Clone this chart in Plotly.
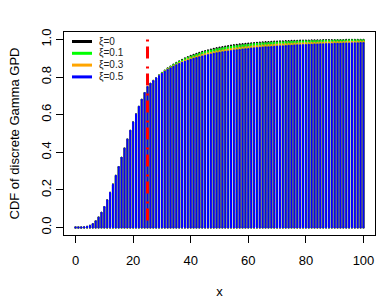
import plotly.graph_objects as go

# x values 0..100
x_vals = list(range(0, 101))
threshold = 25

# Common gamma body, x = 0..25
body = [0.0000, 0.0000, 0.0002, 0.0011, 0.0037, 0.0091, 0.0186, 0.0329, 0.0527, 0.0780,
        0.1088, 0.1446, 0.1847, 0.2283, 0.2746, 0.3224, 0.3712, 0.4199, 0.4679, 0.5146,
        0.5595, 0.6022, 0.6425, 0.6801, 0.7149, 0.7470]

# Tails, x = 26..100
tail_xi0 = [0.7644, 0.7807, 0.7958, 0.8099, 0.8230, 0.8352, 0.8465, 0.8571, 0.8670, 0.8761,
            0.8847, 0.8926, 0.9000, 0.9069, 0.9133, 0.9193, 0.9249, 0.9301, 0.9349, 0.9394,
            0.9435, 0.9474, 0.9511, 0.9544, 0.9576, 0.9605, 0.9632, 0.9658, 0.9681, 0.9703,
            0.9724, 0.9743, 0.9760, 0.9777, 0.9792, 0.9807, 0.9820, 0.9832, 0.9844, 0.9855,
            0.9865, 0.9874, 0.9883, 0.9891, 0.9898, 0.9905, 0.9912, 0.9918, 0.9924, 0.9929,
            0.9934, 0.9938, 0.9943, 0.9947, 0.9950, 0.9954, 0.9957, 0.9960, 0.9963, 0.9965,
            0.9968, 0.9970, 0.9972, 0.9974, 0.9976, 0.9977, 0.9979, 0.9980, 0.9982, 0.9983,
            0.9984, 0.9985, 0.9986, 0.9987, 0.9988]

tail_xi01 = [0.7644, 0.7805, 0.7953, 0.8091, 0.8219, 0.8337, 0.8447, 0.8549, 0.8643, 0.8731,
             0.8813, 0.8888, 0.8959, 0.9025, 0.9086, 0.9143, 0.9196, 0.9245, 0.9291, 0.9334,
             0.9375, 0.9412, 0.9447, 0.9480, 0.9511, 0.9539, 0.9566, 0.9591, 0.9615, 0.9637,
             0.9658, 0.9677, 0.9695, 0.9712, 0.9728, 0.9743, 0.9758, 0.9771, 0.9783, 0.9795,
             0.9806, 0.9816, 0.9826, 0.9835, 0.9844, 0.9852, 0.9860, 0.9867, 0.9874, 0.9881,
             0.9887, 0.9893, 0.9898, 0.9903, 0.9908, 0.9913, 0.9917, 0.9921, 0.9925, 0.9929,
             0.9932, 0.9935, 0.9938, 0.9941, 0.9944, 0.9947, 0.9949, 0.9952, 0.9954, 0.9956,
             0.9958, 0.9960, 0.9962, 0.9964, 0.9965]

tail_xi03 = [0.7643, 0.7800, 0.7944, 0.8077, 0.8198, 0.8310, 0.8412, 0.8507, 0.8595, 0.8676,
             0.8751, 0.8820, 0.8885, 0.8945, 0.9001, 0.9053, 0.9102, 0.9147, 0.9190, 0.9229,
             0.9267, 0.9302, 0.9335, 0.9366, 0.9395, 0.9422, 0.9448, 0.9472, 0.9495, 0.9516,
             0.9537, 0.9556, 0.9575, 0.9592, 0.9608, 0.9624, 0.9639, 0.9653, 0.9666, 0.9679,
             0.9691, 0.9702, 0.9713, 0.9724, 0.9733, 0.9743, 0.9752, 0.9761, 0.9769, 0.9777,
             0.9784, 0.9791, 0.9798, 0.9805, 0.9811, 0.9817, 0.9823, 0.9829, 0.9834, 0.9839,
             0.9844, 0.9849, 0.9853, 0.9858, 0.9862, 0.9866, 0.9870, 0.9874, 0.9877, 0.9881,
             0.9884, 0.9887, 0.9890, 0.9893, 0.9896]

tail_xi05 = [0.7641, 0.7796, 0.7936, 0.8063, 0.8179, 0.8284, 0.8381, 0.8470, 0.8551, 0.8626,
             0.8696, 0.8760, 0.8820, 0.8876, 0.8927, 0.8975, 0.9020, 0.9063, 0.9102, 0.9139,
             0.9174, 0.9207, 0.9237, 0.9266, 0.9294, 0.9320, 0.9344, 0.9368, 0.9389, 0.9410,
             0.9430, 0.9449, 0.9467, 0.9484, 0.9500, 0.9516, 0.9531, 0.9545, 0.9558, 0.9571,
             0.9583, 0.9595, 0.9607, 0.9617, 0.9628, 0.9638, 0.9647, 0.9657, 0.9665, 0.9674,
             0.9682, 0.9690, 0.9698, 0.9705, 0.9712, 0.9719, 0.9725, 0.9732, 0.9738, 0.9744,
             0.9750, 0.9755, 0.9760, 0.9766, 0.9771, 0.9776, 0.9780, 0.9785, 0.9789, 0.9793,
             0.9798, 0.9802, 0.9806, 0.9809, 0.9813]

series_names = ["ξ=0", "ξ=0.1", "ξ=0.3", "ξ=0.5"]
series_colors = ["#000000", "#00FF00", "#FFA500", "#0000FF"]
series_tails = [tail_xi0, tail_xi01, tail_xi03, tail_xi05]

FONT = "Liberation Sans, Arial, Helvetica, sans-serif"

# plot area geometry in pixels (for the hand-made compact legend)
W, H = 382, 300
ML, MR, MT, MB = 64, 7, 32, 65
PW, PH = W - ML - MR, H - MT - MB

def px_x(p):
    return (p - ML) / PW

def px_y(p):
    return (H - MB - p) / PH

fig = go.Figure()

for name, color, tail in zip(series_names, series_colors, series_tails):
    vals = body + tail
    xs, ys = [], []
    for xi, v in zip(x_vals, vals):
        xs += [xi, xi, None]
        ys += [0, v, None]
    fig.add_trace(go.Scatter(x=xs, y=ys, mode="lines+markers", name=name,
                             line=dict(color=color, width=2),
                             marker=dict(color=color, size=2, line=dict(width=0)),
                             hoverinfo="skip", showlegend=False))

# threshold line
fig.add_trace(go.Scatter(x=[threshold, threshold], y=[1, 0], mode="lines",
                         line=dict(color="#FF0000", width=3, dash="2px,5px,12px,8px"),
                         showlegend=False, hoverinfo="skip"))

# compact legend (R style, no box)
shapes, annotations = [], []
for i, (name, color) in enumerate(zip(series_names, series_colors)):
    row = 41.5 + 11.8 * i
    shapes.append(dict(type="line", xref="paper", yref="paper",
                       x0=px_x(72), x1=px_x(92), y0=px_y(row), y1=px_y(row),
                       line=dict(color=color, width=3)))
    annotations.append(dict(xref="paper", yref="paper", x=px_x(97), y=px_y(row),
                            xanchor="left", yanchor="middle", text=name,
                            showarrow=False, font=dict(size=10, family=FONT, color="#222222")))

fig.update_layout(
    width=W, height=H,
    margin=dict(l=ML, r=MR, t=MT, b=MB),
    paper_bgcolor="white", plot_bgcolor="white",
    font=dict(family=FONT, size=13, color="black"),
    showlegend=False,
    shapes=shapes, annotations=annotations,
)

fig.update_xaxes(range=[-4, 104], tickvals=[0, 20, 40, 60, 80, 100],
                 ticks="outside", ticklen=7, tickcolor="black",
                 showline=True, linecolor="black", linewidth=1, mirror=True,
                 showgrid=False, zeroline=False, automargin=False,
                 ticklabelstandoff=6,
                 title=dict(text="x", standoff=20, font=dict(size=13)))

fig.update_yaxes(range=[-0.04, 1.04], tickvals=[0, 0.2, 0.4, 0.6, 0.8, 1.0],
                 ticktext=["0.0", "0.2", "0.4", "0.6", "0.8", "1.0"],
                 tickangle=-90,
                 ticks="outside", ticklen=7, tickcolor="black",
                 showline=True, linecolor="black", linewidth=1, mirror=True,
                 showgrid=False, zeroline=False, automargin=False,
                 title=dict(text="CDF of discrete Gamma GPD", standoff=16,
                            font=dict(size=13)))

fig.write_html("out.html", config={"displayModeBar": False},
               post_script="document.body.style.margin='0';document.body.style.padding='0';")
